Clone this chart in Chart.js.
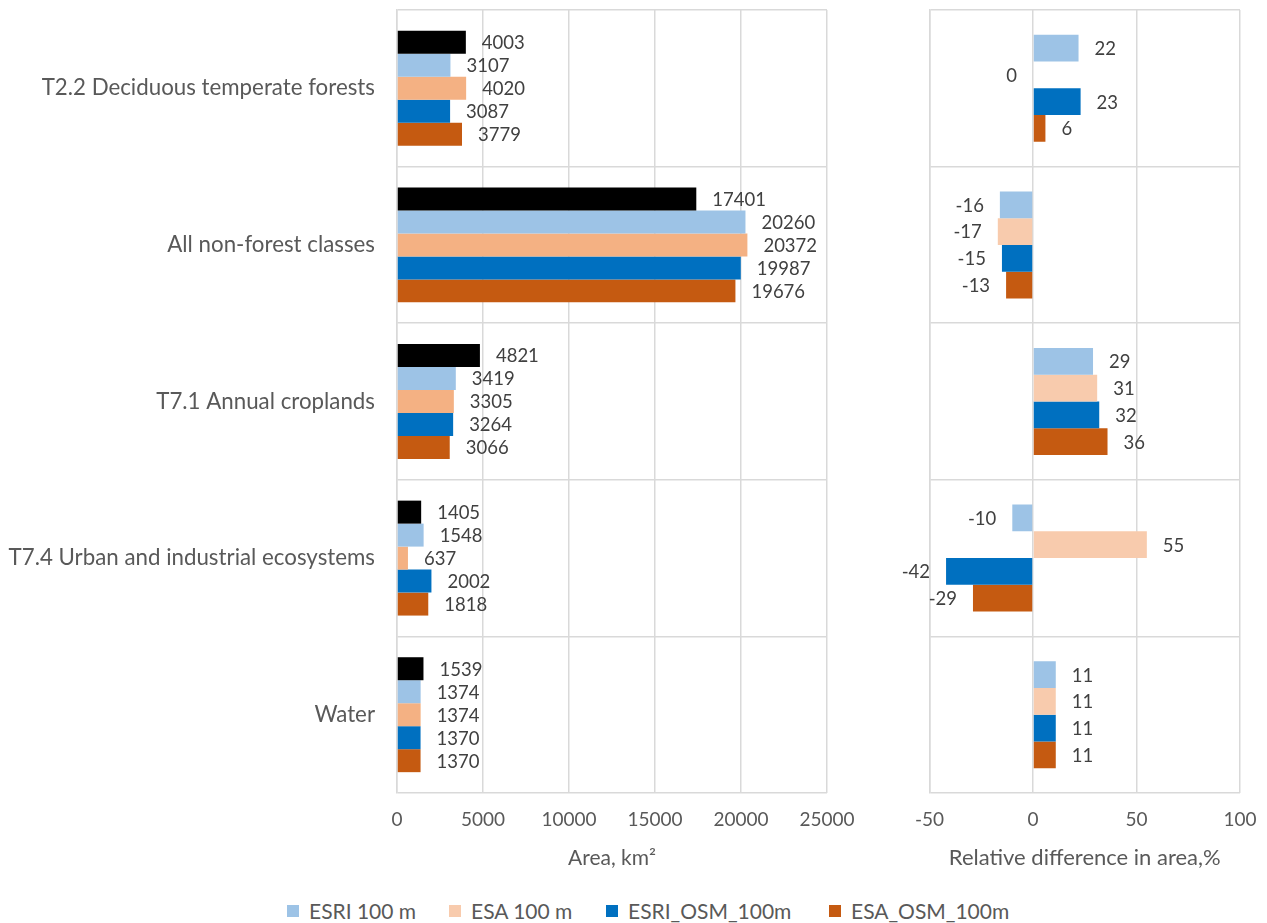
<!DOCTYPE html>
<html>
<head>
<meta charset="utf-8">
<script src="https://cdn.jsdelivr.net/npm/chart.js@4/dist/chart.umd.min.js"></script>
<style>
  html, body { margin: 0; padding: 0; background: #ffffff; }
  body { width: 1267px; height: 923px; position: relative; overflow: hidden; font-family: Lato, sans-serif; }
  #c1 { position: absolute; left: 0; top: 0; }
  #c2 { position: absolute; left: 860px; top: 0; }
  #legend { position: absolute; left: 0; top: 898px; width: 1267px; height: 26px; }
  .item { position: absolute; top: 0; display: flex; align-items: center; color: #595959; font-size: 21px; white-space: nowrap; }
  .sw { width: 12px; height: 12px; margin-right: 10px; }
</style>
</head>
<body>
<canvas id="c1" width="860" height="880"></canvas>
<canvas id="c2" width="407" height="880"></canvas>
<div id="legend"></div>
<script>
const categories = [
  "T2.2 Deciduous temperate forests",
  "All non-forest classes",
  "T7.1 Annual croplands",
  "T7.4 Urban and industrial ecosystems",
  "Water"
];
// Left chart: area, km²
const areaReference = [4003, 17401, 4821, 1405, 1539];
const areaEsri100 = [3107, 20260, 3419, 1548, 1374];
const areaEsa100 = [4020, 20372, 3305, 637, 1374];
const areaEsriOsm100 = [3087, 19987, 3264, 2002, 1370];
const areaEsaOsm100 = [3779, 19676, 3066, 1818, 1370];
// Right chart: relative difference in area, %
const diffEsri100 = [22, -16, 29, -10, 11];
const diffEsa100 = [0, -17, 31, 55, 11];
const diffEsriOsm100 = [23, -15, 32, -42, 11];
const diffEsaOsm100 = [6, -13, 36, -29, 11];

const seriesNames = ["ESRI 100 m", "ESA 100 m", "ESRI_OSM_100m", "ESA_OSM_100m"];
const areaTicks = [0, 5000, 10000, 15000, 20000, 25000];
const diffTicks = [-50, 0, 50, 100];

const C_REF = "#000000";
const C_ESRI = "#9dc3e6";
const C_ESA_L = "#f4b183";
const C_ESA_R = "#f8cbad";
const C_ESRI_OSM = "#0070c0";
const C_ESA_OSM = "#c55a11";
const GRID = "#d9d9d9";
const TXT = "#595959";
const FONT = "Lato, 'Open Sans', sans-serif";

const valueLabels = {
  id: 'valueLabels',
  afterDatasetsDraw(chart, args, opts) {
    const ctx = chart.ctx;
    ctx.save();
    ctx.font = opts.size + "px " + FONT;
    ctx.fillStyle = opts.color;
    ctx.textBaseline = 'middle';
    chart.data.datasets.forEach((ds, di) => {
      const meta = chart.getDatasetMeta(di);
      meta.data.forEach((bar, i) => {
        const v = ds.data[i];
        const pos = v > 0;
        ctx.textAlign = pos ? 'left' : 'right';
        const x = pos ? bar.x + opts.offset : bar.x - opts.offset;
        ctx.fillText(String(v), x, bar.y + 1);
      });
    });
    ctx.restore();
  }
};

function makeOptions(cfg) {
  return {
    indexAxis: 'y',
    responsive: false,
    animation: false,
    layout: { padding: { left: cfg.padLeft, right: cfg.padRight, top: 10, bottom: 0 } },
    plugins: {
      legend: { display: false },
      tooltip: { enabled: false },
      valueLabels: { size: 18.5, color: "#404040", offset: 16 }
    },
    scales: {
      x: {
        type: 'linear',
        min: cfg.min, max: cfg.max,
        afterBuildTicks: (s) => { s.ticks = cfg.ticks.map(v => ({ value: v })); },
        grid: { color: GRID, lineWidth: 1.5, drawTicks: false },
        border: { display: false },
        ticks: { color: TXT, font: { family: FONT, size: 19 }, padding: 15, maxRotation: 0, callback: (v) => String(v) },
        title: { display: true, text: cfg.title, color: TXT, font: { family: FONT, size: cfg.titleSize }, padding: { top: 0, bottom: 9 } },
        afterFit: (s) => { s.height = 87; s.paddingLeft = 0; s.paddingRight = 0; }
      },
      y: {
        type: 'category',
        grid: { color: GRID, lineWidth: 1.5, drawTicks: false, offset: true },
        border: { color: GRID, width: 1.5 },
        ticks: { display: cfg.showLabels, color: TXT, font: { family: FONT, size: 22.3 }, padding: 22 },
        afterFit: (s) => { s.width = cfg.yWidth; s.paddingTop = 0; s.paddingBottom = 0; }
      }
    }
  };
}

new Chart(document.getElementById('c1'), {
  type: 'bar',
  data: {
    labels: categories,
    datasets: [
      { label: "Reference", data: areaReference, backgroundColor: C_REF },
      { label: seriesNames[0], data: areaEsri100, backgroundColor: C_ESRI },
      { label: seriesNames[1], data: areaEsa100, backgroundColor: C_ESA_L },
      { label: seriesNames[2], data: areaEsriOsm100, backgroundColor: C_ESRI_OSM },
      { label: seriesNames[3], data: areaEsaOsm100, backgroundColor: C_ESA_OSM }
    ].map(d => Object.assign(d, { categoryPercentage: 0.734, barPercentage: 1 }))
  },
  options: makeOptions({ padLeft: 0, padRight: 33, min: 0, max: 25000, ticks: areaTicks, title: "Area, km²", titleSize: 21, showLabels: true, yWidth: 397 }),
  plugins: [valueLabels]
});

new Chart(document.getElementById('c2'), {
  type: 'bar',
  data: {
    labels: categories,
    datasets: [
      { label: seriesNames[0], data: diffEsri100, backgroundColor: C_ESRI },
      { label: seriesNames[1], data: diffEsa100, backgroundColor: C_ESA_R },
      { label: seriesNames[2], data: diffEsriOsm100, backgroundColor: C_ESRI_OSM },
      { label: seriesNames[3], data: diffEsaOsm100, backgroundColor: C_ESA_OSM }
    ].map(d => Object.assign(d, { categoryPercentage: 0.683, barPercentage: 1 }))
  },
  options: makeOptions({ padLeft: 0, padRight: 27, min: -50, max: 100, ticks: diffTicks, title: "Relative difference in area,%", titleSize: 22, showLabels: false, yWidth: 69.5 }),
  plugins: [valueLabels]
});

// Shared legend
const legendColors = [C_ESRI, C_ESA_R, C_ESRI_OSM, C_ESA_OSM];
const legendX = [287, 449, 606, 829];
const leg = document.getElementById('legend');
seriesNames.forEach((name, i) => {
  const it = document.createElement('div');
  it.className = 'item';
  it.style.left = legendX[i] + 'px';
  const sw = document.createElement('span');
  sw.className = 'sw';
  sw.style.background = legendColors[i];
  it.appendChild(sw);
  it.appendChild(document.createTextNode(name));
  leg.appendChild(it);
});
</script>
</body>
</html>
